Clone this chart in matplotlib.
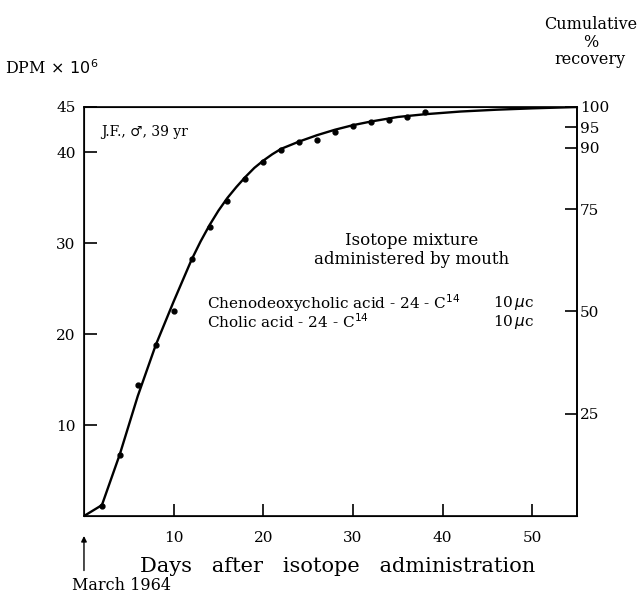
import matplotlib
matplotlib.use("Agg")
import matplotlib.pyplot as plt

# measured points (every 2 days)
days = [2, 4, 6, 8, 10, 12, 14, 16, 18, 20, 22, 24, 26, 28, 30, 32, 34, 36, 38]
dpm = [1.1, 6.7, 14.4, 18.8, 22.5, 28.3, 31.8, 34.7, 37.1, 39.0, 40.3, 41.1,
       41.4, 42.3, 42.9, 43.3, 43.6, 43.9, 44.5]

# hand drawn fitted curve
curve_days = [0, 2, 4, 6, 8, 10, 12, 13, 14, 15, 16, 17, 18, 19, 20, 21, 22,
              24, 26, 28, 30, 32, 35, 38, 42, 46, 50, 55]
curve_dpm = [0, 1.2, 6.8, 13.2, 18.8, 23.6, 28.2, 30.2, 32.0, 33.6, 35.0, 36.2,
             37.3, 38.3, 39.1, 39.8, 40.4, 41.2, 41.9, 42.5, 43.0, 43.4, 43.9,
             44.2, 44.5, 44.7, 44.85, 45.0]

left_ticks = [10, 20, 30, 40, 45]
right_ticks = [25, 50, 75, 90, 95, 100]
x_ticks = [10, 20, 30, 40, 50]

plt.rcParams['font.family'] = ['DejaVu Serif']

fig = plt.figure(figsize=(6.43, 5.94), dpi=100)
ax = fig.add_axes([0.1306, 0.1313, 0.767, 0.6886])

ax.plot(curve_days, curve_dpm, color='black', lw=1.7)
ax.plot(days, dpm, 'o', color='black', ms=3.5)

ax.set_xlim(0, 55)
ax.set_ylim(0, 45)
ax.set_xticks(x_ticks)
ax.set_yticks(left_ticks)
ax.tick_params(axis='y', direction='in', length=9, width=1.2, labelsize=11, pad=6)
ax.tick_params(axis='x', direction='in', length=9, width=1.2, labelsize=11, pad=11)
for s in ax.spines.values():
    s.set_linewidth(1.2)

ax2 = ax.twinx()
ax2.set_ylim(0, 100)
ax2.set_yticks(right_ticks)
ax2.tick_params(direction='in', length=9, width=1.2, labelsize=11, pad=2)
ax2.spines['right'].set_linewidth(1.2)

fig.text(0.008, 0.875, r'DPM$\,\times\,10^6$', fontsize=11.5, ha='left')
fig.text(0.918, 0.885, 'Cumulative\n%\nrecovery', fontsize=11.5, ha='center',
         va='bottom', linespacing=1.05)

ax.text(0.035, 0.955, 'J.F., \u2642, 39 yr', transform=ax.transAxes, fontsize=10,
        va='top')
ax.text(0.665, 0.695, 'Isotope mixture\nadministered by mouth',
        transform=ax.transAxes, fontsize=12, ha='center', va='top',
        linespacing=1.2)
ax.text(0.25, 0.52, r'Chenodeoxycholic acid - 24 - C$^{14}$',
        transform=ax.transAxes, fontsize=11, va='center')
ax.text(0.25, 0.475, r'Cholic acid - 24 - C$^{14}$',
        transform=ax.transAxes, fontsize=11, va='center')
ax.text(0.83, 0.52, r'10$\,\mu$c', transform=ax.transAxes, fontsize=11,
        va='center')
ax.text(0.83, 0.475, r'10$\,\mu$c', transform=ax.transAxes, fontsize=11,
        va='center')

ax.set_xlabel('Days   after   isotope   administration', fontsize=15,
              labelpad=8)
ax.xaxis.set_label_coords(0.515, -0.1)

ax.annotate('', xy=(0, -0.042), xytext=(0, -0.14), xycoords='axes fraction',
            textcoords='axes fraction', annotation_clip=False,
            arrowprops=dict(arrowstyle='-|>', color='black', lw=1,
                            mutation_scale=8))
fig.text(0.112, 0.0, 'March 1964', fontsize=11.5, ha='left', va='bottom')

fig.savefig('out.png', dpi=100)
